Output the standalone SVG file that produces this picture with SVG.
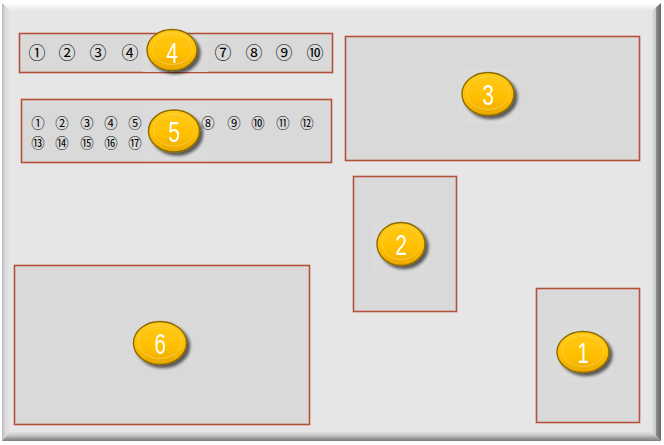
<svg xmlns="http://www.w3.org/2000/svg" width="664" height="445" viewBox="0 0 664 445">
<style>
.box{fill:#d9d9d9;stroke:#b4513a;stroke-width:1.6}
.pad{fill:#dbdbdb}
.coin{fill:url(#gold);stroke:#8c6a00;stroke-width:1.4}
.ring{fill:none;stroke:#ffd659;stroke-width:0.8;opacity:0.8}
.num{font-family:"Liberation Sans",Arial,sans-serif;font-size:29px;fill:#ffffff;text-anchor:middle}
.c4{font-family:"Noto Sans CJK JP","DejaVu Sans",sans-serif;font-size:17px;fill:#000;text-anchor:middle}
.c5{font-family:"Noto Sans CJK JP","DejaVu Sans",sans-serif;font-size:13.4px;fill:#000;text-anchor:middle}
</style>
<defs>
<linearGradient id="gold" x1="0" y1="0" x2="0" y2="1">
<stop offset="0" stop-color="#ffca1a"/>
<stop offset="0.6" stop-color="#ffbf00"/>
<stop offset="1" stop-color="#e8a800"/>
</linearGradient>
<linearGradient id="topg" x1="0" y1="0" x2="0" y2="1">
<stop offset="0" stop-color="#ffffff"/>
<stop offset="1" stop-color="#e6e6e6"/>
</linearGradient>
<linearGradient id="leftg" x1="0" y1="0" x2="1" y2="0">
<stop offset="0" stop-color="#b8b8b8"/>
<stop offset="0.35" stop-color="#d8d8d8"/>
<stop offset="1" stop-color="#e6e6e6"/>
</linearGradient>
<linearGradient id="rightg" x1="0" y1="0" x2="1" y2="0">
<stop offset="0" stop-color="#e0e0e0"/>
<stop offset="0.4" stop-color="#c8c8c8"/>
<stop offset="0.5" stop-color="#8a8a8a"/>
<stop offset="1" stop-color="#666666"/>
</linearGradient>
<linearGradient id="botg" x1="0" y1="0" x2="0" y2="1">
<stop offset="0" stop-color="#e0e0e0"/>
<stop offset="0.4" stop-color="#c4c4c4"/>
<stop offset="0.6" stop-color="#a8a8a8"/>
<stop offset="1" stop-color="#7a7a7a"/>
</linearGradient>
<filter id="sh" x="-30%" y="-30%" width="170%" height="170%">
<feGaussianBlur in="SourceAlpha" stdDeviation="1.6"/>
<feOffset dx="2.5" dy="3" result="b"/>
<feComponentTransfer><feFuncA type="linear" slope="0.6"/></feComponentTransfer>
<feMerge><feMergeNode/><feMergeNode in="SourceGraphic"/></feMerge>
</filter>
</defs>
<rect width="664" height="445" fill="#ffffff"/>
<g id="frame">
<rect x="2" y="3" width="659" height="438" fill="#e6e6e6"/>
<polygon points="2,3 661,3 652,11 10,11" fill="url(#topg)"/>
<polygon points="2,3 10,11 10,432 2,441" fill="url(#leftg)"/>
<polygon points="661,3 661,441 652,432 652,11" fill="url(#rightg)"/>
<polygon points="2,441 10,432 652,432 661,441" fill="url(#botg)"/>
</g>
<g id="connectors"/>
<g id="node4">
<rect class="box" x="19.5" y="33.5" width="313" height="39"/>
<rect class="pad" x="143" y="35" width="65" height="37"/>
<text class="c4" x="37" y="59">①</text>
<text class="c4" x="67" y="59">②</text>
<text class="c4" x="98" y="59">③</text>
<text class="c4" x="130" y="59">④</text>
<text class="c4" x="223" y="59">⑦</text>
<text class="c4" x="254" y="59">⑧</text>
<text class="c4" x="284" y="59">⑨</text>
<text class="c4" x="315" y="59">⑩</text>
</g>
<g id="node5">
<rect class="box" x="21.5" y="99.5" width="310" height="63"/>
<rect class="pad" x="143" y="101" width="66" height="60"/>
<text class="c5" x="38" y="128">①</text>
<text class="c5" x="62" y="128">②</text>
<text class="c5" x="87" y="128">③</text>
<text class="c5" x="111" y="128">④</text>
<text class="c5" x="135" y="128">⑤</text>
<text class="c5" x="208" y="128">⑧</text>
<text class="c5" x="234" y="128">⑨</text>
<text class="c5" x="258" y="128">⑩</text>
<text class="c5" x="283" y="128">⑪</text>
<text class="c5" x="307" y="128">⑫</text>
<text class="c5" x="38" y="147.5">⑬</text>
<text class="c5" x="62" y="147.5">⑭</text>
<text class="c5" x="87" y="147.5">⑮</text>
<text class="c5" x="111" y="147.5">⑯</text>
<text class="c5" x="135" y="147.5">⑰</text>
</g>
<g id="node3">
<rect class="box" x="345.5" y="36.5" width="294" height="124"/>
<rect class="pad" x="458" y="68" width="60" height="56"/>
</g>
<g id="node2">
<rect class="box" x="353.5" y="176.5" width="103" height="135"/>
<rect class="pad" x="372" y="218" width="58" height="56"/>
</g>
<g id="node1">
<rect class="box" x="536.5" y="288.5" width="103" height="134"/>
<rect class="pad" x="554" y="326" width="60" height="56"/>
</g>
<g id="node6">
<rect class="box" x="14.5" y="265.5" width="295" height="159"/>
</g>
<g id="badge4" filter="url(#sh)">
<ellipse class="coin" cx="172" cy="50" rx="25" ry="20.5"/>
<ellipse class="ring" cx="172" cy="49" rx="20" ry="15.5"/>
<text class="num" transform="translate(172,63) scale(0.72,1)">4</text>
</g>
<g id="badge5" filter="url(#sh)">
<ellipse class="coin" cx="174" cy="131" rx="25.5" ry="21"/>
<ellipse class="ring" cx="174" cy="130" rx="20.5" ry="16"/>
<text class="num" transform="translate(174,142) scale(0.72,1)">5</text>
</g>
<g id="badge3" filter="url(#sh)">
<ellipse class="coin" cx="488" cy="94" rx="26" ry="21.5"/>
<ellipse class="ring" cx="488" cy="93" rx="21" ry="16.5"/>
<text class="num" transform="translate(488,105) scale(0.72,1)">3</text>
</g>
<g id="badge2" filter="url(#sh)">
<ellipse class="coin" cx="401" cy="244" rx="24" ry="21.5"/>
<ellipse class="ring" cx="401" cy="243" rx="19" ry="16.5"/>
<text class="num" transform="translate(401,255) scale(0.72,1)">2</text>
</g>
<g id="badge1" filter="url(#sh)">
<ellipse class="coin" cx="583" cy="352" rx="26" ry="20.5"/>
<ellipse class="ring" cx="583" cy="351" rx="21" ry="15.5"/>
<text class="num" transform="translate(583,363) scale(0.72,1)">1</text>
</g>
<g id="badge6" filter="url(#sh)">
<ellipse class="coin" cx="160" cy="343" rx="26.5" ry="21.5"/>
<ellipse class="ring" cx="160" cy="342" rx="21.5" ry="16.5"/>
<text class="num" transform="translate(160,354) scale(0.72,1)">6</text>
</g>
</svg>
